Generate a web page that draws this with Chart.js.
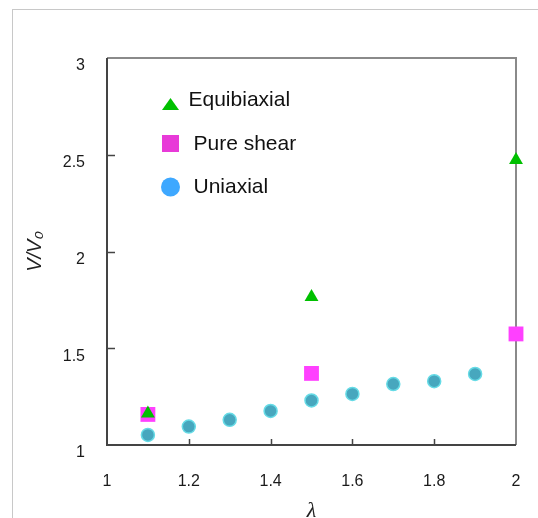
<!DOCTYPE html>
<html>
<head>
<meta charset="utf-8">
<script src="https://cdn.jsdelivr.net/npm/chart.js@4.4.1/dist/chart.umd.min.js"></script>
<style>
  html, body { margin: 0; padding: 0; background: #fff; overflow: hidden; }
  #frame { position: absolute; left: 12px; top: 9px; width: 540px; height: 520px;
           border-left: 1px solid #c8c8c8; border-top: 1px solid #c8c8c8; }
  #wrap { position: absolute; left: 0; top: 0; width: 538px; height: 530px; }
</style>
</head>
<body>
<div id="frame"></div>
<div id="wrap"><canvas id="chart1" width="538" height="530"></canvas></div>
<script>
var seriesNames = ['Equibiaxial', 'Pure shear', 'Uniaxial']

var equiX = [1.1, 1.5, 2.0]
var equiY = [1.163, 1.765, 2.473]

var shearX = [1.1, 1.5, 2.0]
var shearY = [1.158, 1.37, 1.574]

var uniX = [1.1, 1.2, 1.3, 1.4, 1.5, 1.6, 1.7, 1.8, 1.9]
var uniY = [1.052, 1.095, 1.13, 1.176, 1.23, 1.264, 1.315, 1.33, 1.367]

var xTicks = [1.2, 1.4, 1.6, 1.8]
var yTicks = [1.5, 2, 2.5]

function toPoints(xs, ys) {
    var pts = []
    for (var i = 0, size = xs.length; i < size; ++i) {
        pts.push({ x: xs[i], y: ys[i] })
    }
    return pts
}

function plainNumber(v) {
    return String(+Number(v).toFixed(2))
}

// legend rows inside the plot (offsets from chart area top-left)
var legendMarks = [
    { style: 'triangle', color: '#00c000', my: 46, ty: 48, tx: 18 },
    { style: 'rect', color: '#e83ad8', my: 85.5, ty: 92, tx: 23 },
    { style: 'circle', color: '#3ea8ff', my: 129, ty: 135, tx: 23 }
]

// plot box with inward ticks, drawn under the points
var framePlugin = {
    id: 'framePlugin',
    beforeDatasetsDraw: function (chart) {
        var c = chart.ctx
        var a = chart.chartArea
        var xs = chart.scales.x
        var ys = chart.scales.y
        c.save()
        c.lineWidth = 2
        c.strokeStyle = '#8a8a8a'
        c.beginPath()
        c.moveTo(a.left, a.top)
        c.lineTo(a.right, a.top)
        c.lineTo(a.right, a.bottom)
        c.stroke()
        c.strokeStyle = '#444'
        c.beginPath()
        c.moveTo(a.left, a.top)
        c.lineTo(a.left, a.bottom)
        c.lineTo(a.right, a.bottom)
        c.stroke()
        c.lineWidth = 1.5
        c.beginPath()
        for (var i = 0; i < xTicks.length; i++) {
            var px = Math.round(xs.getPixelForValue(xTicks[i])) + 0.5
            c.moveTo(px, a.bottom)
            c.lineTo(px, a.bottom - 6)
        }
        for (var j = 0; j < yTicks.length; j++) {
            var py = Math.round(ys.getPixelForValue(yTicks[j])) + 0.5
            c.moveTo(a.left, py)
            c.lineTo(a.left + 8, py)
        }
        c.stroke()
        c.restore()
    },
    afterDraw: function (chart) {
        var c = chart.ctx
        var a = chart.chartArea
        c.save()
        c.font = '21px "Liberation Sans", Arial, sans-serif'
        c.textBaseline = 'alphabetic'
        var mx = a.left + 63.5
        for (var i = 0; i < seriesNames.length; i++) {
            var m = legendMarks[i]
            var my = a.top + m.my
            c.fillStyle = m.color
            c.beginPath()
            if (m.style === 'triangle') {
                c.moveTo(mx, my - 6)
                c.lineTo(mx + 8.5, my + 6)
                c.lineTo(mx - 8.5, my + 6)
                c.closePath()
            } else if (m.style === 'rect') {
                c.rect(mx - 8.5, my - 8.5, 17, 17)
            } else {
                c.arc(mx, my, 9.5, 0, Math.PI * 2)
            }
            c.fill()
            c.fillStyle = '#111'
            c.fillText(seriesNames[i], mx + m.tx, a.top + m.ty)
        }
        c.restore()
    }
}

var ctx = document.getElementById('chart1')
var chart1 = new Chart(ctx, {
    type: 'scatter',
    data: {
        datasets: [
            {
                label: seriesNames[0],
                data: toPoints(equiX, equiY),
                pointStyle: 'triangle',
                pointRadius: 8,
                backgroundColor: '#00c000',
                borderColor: '#00c000',
                borderWidth: 0
            },
            {
                label: seriesNames[1],
                data: toPoints(shearX, shearY),
                pointStyle: 'rect',
                pointRadius: 10.5,
                backgroundColor: '#ff40ff',
                borderColor: '#ff40ff',
                borderWidth: 0
            },
            {
                label: seriesNames[2],
                data: toPoints(uniX, uniY),
                pointStyle: 'circle',
                pointRadius: 6.5,
                backgroundColor: '#47a7be',
                borderColor: '#66dbe6',
                borderWidth: 1.5
            }
        ]
    },
    options: {
        responsive: false,
        animation: false,
        clip: false,
        layout: { padding: { top: 58, right: 22, left: 0, bottom: 0 } },
        plugins: {
            legend: { display: false },
            tooltip: { enabled: false }
        },
        scales: {
            x: {
                type: 'linear',
                min: 1,
                max: 2,
                grid: { display: false, drawTicks: false },
                border: { display: false },
                ticks: {
                    stepSize: 0.2,
                    padding: 27,
                    color: '#1a1a1a',
                    callback: plainNumber,
                    font: { family: '"Liberation Sans", Arial, sans-serif', size: 16 }
                },
                title: {
                    display: true,
                    text: 'λ',
                    color: '#222',
                    padding: { top: 0, bottom: 6 },
                    font: { family: '"Liberation Serif", serif', size: 22, style: 'italic' }
                },
                afterFit: function (s) {
                    s.height = 85
                    s.paddingLeft = 0
                    s.paddingRight = 0
                }
            },
            y: {
                type: 'linear',
                min: 1,
                max: 3,
                grid: { display: false, drawTicks: false },
                border: { display: false },
                ticks: {
                    stepSize: 0.5,
                    padding: 22,
                    labelOffset: 8,
                    color: '#1a1a1a',
                    callback: plainNumber,
                    font: { family: '"Liberation Sans", Arial, sans-serif', size: 16 }
                },
                title: {
                    display: true,
                    text: 'V/V₀',
                    color: '#222',
                    padding: { top: 23, bottom: 0 },
                    font: { family: '"Liberation Sans", Arial, sans-serif', size: 20, style: 'italic' }
                },
                afterFit: function (s) {
                    s.width = 107
                    s.paddingTop = 0
                    s.paddingBottom = 0
                }
            }
        }
    },
    plugins: [framePlugin]
})
</script>
</body>
</html>
